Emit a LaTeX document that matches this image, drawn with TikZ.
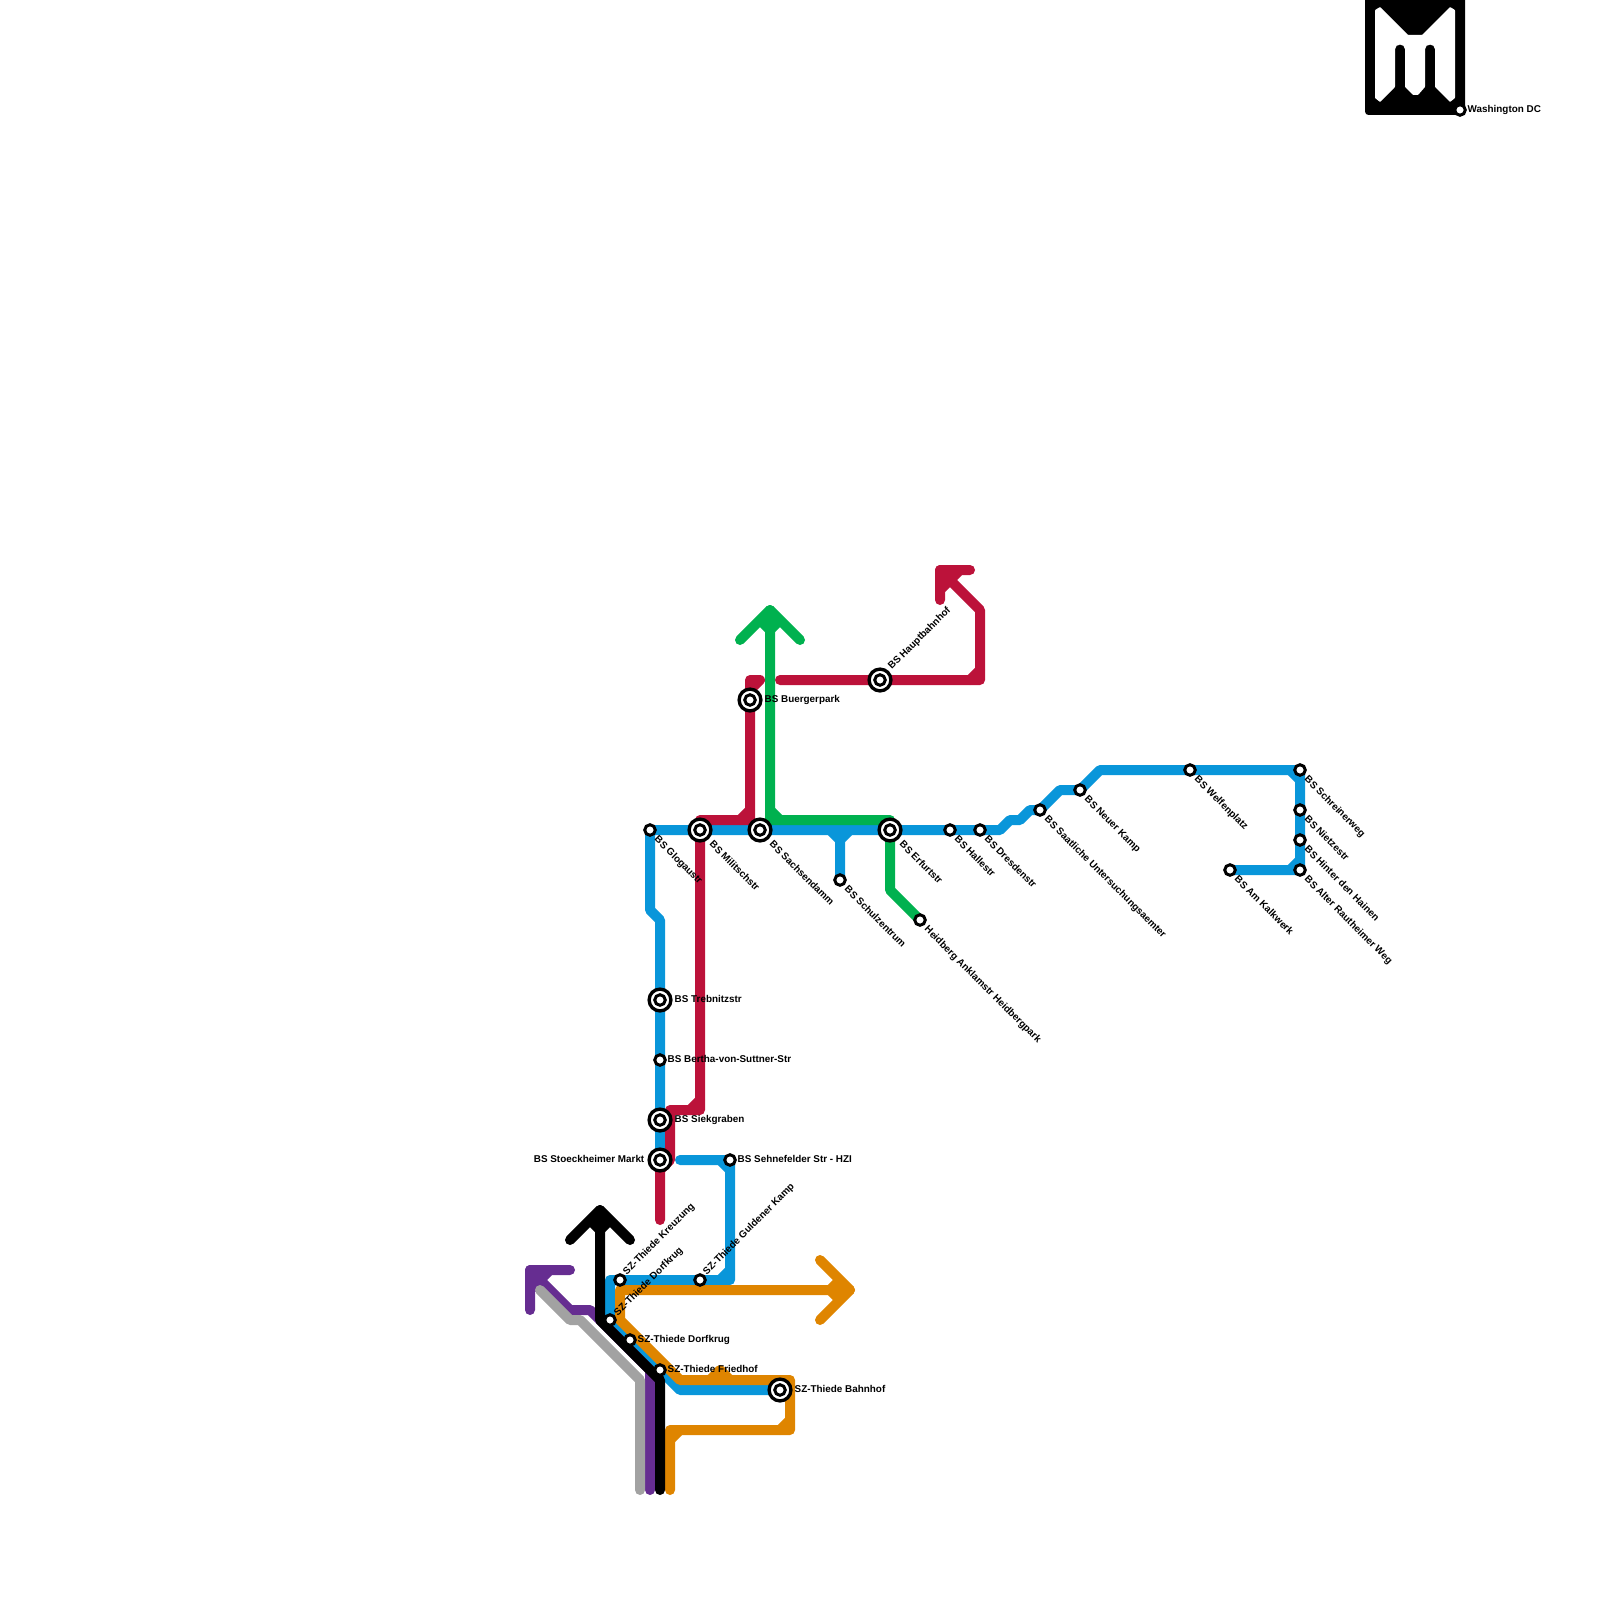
\documentclass[tikz,border=0pt]{standalone}
\usepackage{fontspec}
\usepackage{xcolor}
\setmainfont{Liberation Sans}
\definecolor{lineblue}{RGB}{9,150,218}
\definecolor{linered}{RGB}{188,18,58}
\definecolor{linegreen}{RGB}{0,177,79}
\definecolor{lineorange}{RGB}{223,133,0}
\definecolor{linepurple}{RGB}{102,45,145}
\definecolor{linegray}{RGB}{162,162,162}
\pgfdeclarelayer{lines}
\pgfsetlayers{lines,main}
\tikzset{
    metroline/.style={line width=2.845pt, line cap=round, line join=round},
    smallstop/.style={circle, draw=black, fill=white, line width=0.85pt, inner sep=0pt, outer sep=0pt, minimum size=3pt},
    bigstop/.style={circle, draw=black, fill=white, line width=0.95pt, inner sep=0pt, outer sep=0pt, minimum size=6.2pt,
        path picture={\draw[line width=0.85pt] (path picture bounding box.center) circle (1.5pt);}},
    stopname/.style={inner sep=0pt, text=black, text height=2pt, text depth=0pt,
        font=\bfseries\fontsize{2.81}{3.4}\selectfont}
}
\begin{document}
\begin{tikzpicture}[x=0.01cm, y=-0.01cm]
    \useasboundingbox (0,0) rectangle (1600,1600);
    \clip (0,0) rectangle (1600,1600);

    \fill[black, rounded corners=1pt] (1365,-10) rectangle (1465,115);
    \fill[white, rounded corners=0.2pt] (1375,10) -- (1380,7) -- (1408,35) -- (1422,35) -- (1450,7) -- (1455,10)
        -- (1455,98) -- (1450,102) -- (1435,87) -- (1435,50) .. controls (1435,43) and (1425,43) .. (1425,50)
        -- (1425,87) -- (1418,95) -- (1413,95) -- (1405,87) -- (1405,50) .. controls (1405,43) and (1395,43) .. (1395,50)
        -- (1395,87) -- (1380,102) -- (1375,98) -- cycle;

    \node[smallstop] (glogau) at (650,830) {};
    \node[bigstop] (militsch) at (700,830) {};
    \node[bigstop] (sachsen) at (760,830) {};
    \node[smallstop] (schulzentrum) at (840,880) {};
    \node[bigstop] (erfurt) at (890,830) {};
    \node[smallstop] (heidberg) at (920,920) {};
    \node[smallstop] (halle) at (950,830) {};
    \node[smallstop] (dresden) at (980,830) {};
    \node[smallstop] (saatlich) at (1040,810) {};
    \node[smallstop] (neuerkamp) at (1080,790) {};
    \node[smallstop] (welfen) at (1190,770) {};
    \node[smallstop] (schreiner) at (1300,770) {};
    \node[smallstop] (nietze) at (1300,810) {};
    \node[smallstop] (hainen) at (1300,840) {};
    \node[smallstop] (rautheim) at (1300,870) {};
    \node[smallstop] (kalkwerk) at (1230,870) {};
    \node[bigstop] (buerger) at (750,700) {};
    \node[bigstop] (hbf) at (880,680) {};
    \node[bigstop] (trebnitz) at (660,1000) {};
    \node[smallstop] (bertha) at (660,1060) {};
    \node[bigstop] (siek) at (660,1120) {};
    \node[bigstop] (stoeck) at (660,1160) {};
    \node[smallstop] (sehne) at (730,1160) {};
    \node[smallstop] (guldener) at (700,1280) {};
    \node[smallstop] (kreuzung) at (620,1280) {};
    \node[smallstop] (dorfup) at (610,1320) {};
    \node[smallstop] (dorfkrug) at (630,1340) {};
    \node[smallstop] (friedhof) at (660,1370) {};
    \node[bigstop] (bahnhof) at (780,1390) {};
    \node[smallstop] (washington) at (1460,110) {};

    \begin{pgfonlayer}{lines}
    \draw[metroline, lineblue] (stoeck.center) -- (siek.center) -- (bertha.center) -- (trebnitz.center) -- (660,920) -- (650,910)
        -- (glogau.center) -- (militsch.center) -- (sachsen.center) -- (erfurt.center) -- (halle.center) -- (dresden.center)
        -- (1000,830) -- (1010,820) -- (1020,820) -- (1030,810) -- (saatlich.center) -- (1060,790) -- (neuerkamp.center)
        -- (1100,770) -- (welfen.center) -- (schreiner.center) -- (nietze.center) -- (hainen.center) -- (rautheim.center) -- (kalkwerk.center);
    \draw[metroline, lineblue] (1290,770) -- (1300,780) (1290,870) -- (1300,860);
    \draw[metroline, lineblue] (830,830) -- (840,840) -- (850,830) (840,840) -- (schulzentrum.center);
    \draw[metroline, lineblue] (680,1160) -- (sehne.center) -- (730,1280) -- (guldener.center) -- (kreuzung.center) -- (610,1280)
        -- (dorfup.center) -- (dorfkrug.center) -- (friedhof.center) -- (680,1390) -- (bahnhof.center);
    \draw[metroline, lineblue] (720,1160) -- (730,1170) (730,1270) -- (720,1280);

    \draw[metroline, linered] (660,1220) -- (660,1170) -- (670,1160) -- (670,1110) -- (700,1110) -- (militsch.center) -- (700,820)
        -- (750,820) -- (buerger.center) -- (750,680) -- (760,680) -- (750,690);
    \draw[metroline, linered] (690,1110) -- (700,1100) (740,820) -- (750,810);
    \draw[metroline, linered] (780,680) -- (hbf.center) -- (980,680) -- (980,610) -- (940,570);
    \draw[metroline, linered] (970,680) -- (980,670);
    \draw[metroline, linered] (940,600) -- (940,570) -- (970,570) (960,570) -- (940,590);

    \draw[metroline, linegreen] (heidberg.center) -- (890,890) -- (erfurt.center) -- (890,820) -- (770,820) -- (770,610);
    \draw[metroline, linegreen] (770,810) -- (780,820);
    \draw[metroline, linegreen] (740,640) -- (770,610) -- (800,640) (760,620) -- (770,630) -- (780,620);

    \draw[metroline, lineorange] (850,1290) -- (620,1290) -- (620,1320) -- (680,1380) -- (790,1380) -- (790,1430) -- (670,1430) -- (670,1490);
    \draw[metroline, lineorange] (790,1420) -- (780,1430) (680,1430) -- (670,1440);
    \draw[metroline, lineorange] (710,1380) -- (720,1370) -- (730,1380);
    \draw[metroline, lineorange] (820,1260) -- (850,1290) -- (820,1320) (840,1280) -- (830,1290) -- (840,1300);

    \draw[metroline, linepurple] (530,1270) -- (570,1310) -- (590,1310) -- (650,1370) -- (650,1490);
    \draw[metroline, linepurple] (530,1310) -- (530,1270) -- (570,1270) (550,1270) -- (530,1290);

    \draw[metroline, linegray] (540,1290) -- (570,1320) -- (580,1320) -- (640,1380) -- (640,1490);

    \draw[metroline, black] (600,1210) -- (600,1320) -- (660,1380) -- (660,1490);
    \draw[metroline, black] (570,1240) -- (600,1210) -- (630,1240) (590,1220) -- (600,1230) -- (610,1220);
    \end{pgfonlayer}

    \node[stopname, anchor=west, rotate=-45] (glogautext) at (656,837) {BS Glogaustr};
    \node[stopname, anchor=west, rotate=-45] (militschtext) at (711,842) {BS Militschstr};
    \node[stopname, anchor=west, rotate=-45] (sachsentext) at (771,842) {BS Sachsendamm};
    \node[stopname, anchor=west, rotate=-45] (schulzentrumtext) at (846,887) {BS Schulzentrum};
    \node[stopname, anchor=west, rotate=-45] (erfurttext) at (901,842) {BS Erfurtstr};
    \node[stopname, anchor=west, rotate=-45] (heidbergtext) at (926,927) {Heidberg Anklamstr Heidbergpark};
    \node[stopname, anchor=west, rotate=-45] (halletext) at (956,837) {BS Hallestr};
    \node[stopname, anchor=west, rotate=-45] (dresdentext) at (986,837) {BS Dresdenstr};
    \node[stopname, anchor=west, rotate=-45] (saatlichtext) at (1046,817) {BS Saatliche Untersuchungsaemter};
    \node[stopname, anchor=west, rotate=-45] (neuerkamptext) at (1086,797) {BS Neuer Kamp};
    \node[stopname, anchor=west, rotate=-45] (welfentext) at (1196,777) {BS Welfenplatz};
    \node[stopname, anchor=west, rotate=-45] (schreinertext) at (1306,777) {BS Schreinerweg};
    \node[stopname, anchor=west, rotate=-45] (nietzetext) at (1306,817) {BS Nietzestr};
    \node[stopname, anchor=west, rotate=-45] (hainentext) at (1306,847) {BS Hinter den Hainen};
    \node[stopname, anchor=west, rotate=-45] (rautheimtext) at (1306,877) {BS Alter Rautheimer Weg};
    \node[stopname, anchor=west, rotate=-45] (kalkwerktext) at (1236,877) {BS Am Kalkwerk};
    \node[stopname, anchor=west, rotate=45] (hbftext) at (889,668) {BS Hauptbahnhof};
    \node[stopname, anchor=west, rotate=45] (kreuzungtext) at (624,1273) {SZ-Thiede Kreuzung};
    \node[stopname, anchor=west, rotate=45] (dorfuptext) at (615,1314) {SZ-Thiede Dorfkrug};
    \node[stopname, anchor=west, rotate=45] (guldenertext) at (704,1273) {SZ-Thiede Guldener Kamp};
    \node[stopname, anchor=west] (buergertext) at (764,699) {BS Buergerpark};
    \node[stopname, anchor=west] (trebnitztext) at (674,999) {BS Trebnitzstr};
    \node[stopname, anchor=west] (berthatext) at (667,1059) {BS Bertha-von-Suttner-Str};
    \node[stopname, anchor=west] (siektext) at (674,1119) {BS Siekgraben};
    \node[stopname, anchor=east] (stoecktext) at (645,1159) {BS Stoeckheimer Markt};
    \node[stopname, anchor=west] (sehnetext) at (737,1159) {BS Sehnefelder Str - HZI};
    \node[stopname, anchor=west] (dorfkrugtext) at (637,1339) {SZ-Thiede Dorfkrug};
    \node[stopname, anchor=west] (friedhoftext) at (667,1369) {SZ-Thiede Friedhof};
    \node[stopname, anchor=west] (bahnhoftext) at (794,1389) {SZ-Thiede Bahnhof};
    \node[stopname, anchor=west] (washingtontext) at (1467,109) {Washington DC};
\end{tikzpicture}
\end{document}
